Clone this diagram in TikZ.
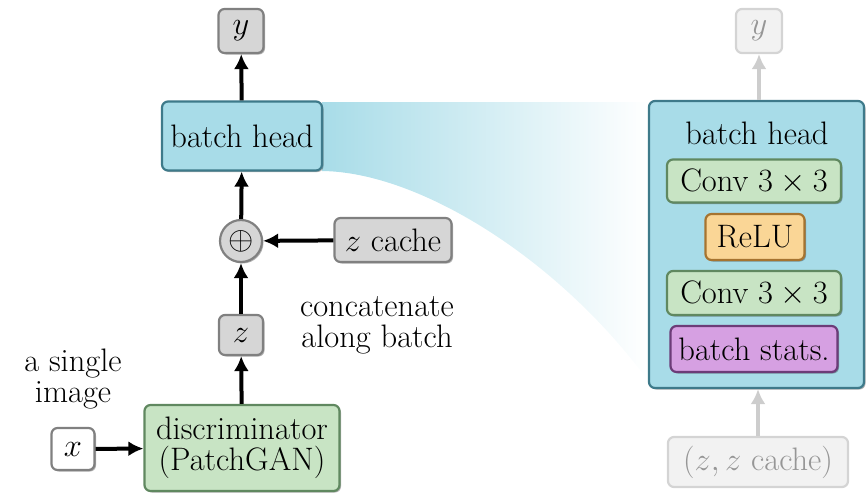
\RequirePackage{fix-cm}
\documentclass[tikz,border=0pt]{standalone}
\usetikzlibrary{arrows.meta,shadows}

\definecolor{boxgray}{RGB}{214,214,214}
\definecolor{linegray}{RGB}{128,128,128}
\definecolor{bhfill}{RGB}{168,220,232}
\definecolor{bhline}{RGB}{62,122,138}
\definecolor{gfill}{RGB}{200,228,196}
\definecolor{gline}{RGB}{96,136,96}
\definecolor{ofill}{RGB}{250,214,150}
\definecolor{oline}{RGB}{166,116,48}
\definecolor{pfill}{RGB}{214,160,226}
\definecolor{pline}{RGB}{108,60,120}
\definecolor{fadefill}{RGB}{242,242,242}
\definecolor{fadeline}{RGB}{212,212,212}
\definecolor{fadetext}{RGB}{150,150,150}
\definecolor{fadearrow}{RGB}{205,205,205}

\tikzset{
  blk/.style={rounded corners=6pt, line width=2.2pt, inner sep=0pt, align=center,
    drop shadow={shadow xshift=1.5pt, shadow yshift=-1.5pt, opacity=0.3, fill=black}},
  graybox/.style={blk, fill=boxgray, draw=linegray},
  bluebox/.style={blk, fill=bhfill, draw=bhline},
  greenbox/.style={blk, fill=gfill, draw=gline},
  orangebox/.style={blk, fill=ofill, draw=oline},
  purplebox/.style={blk, fill=pfill, draw=pline},
  fadebox/.style={rounded corners=6pt, line width=2.2pt, inner sep=0pt, align=center,
    fill=fadefill, draw=fadeline, text=fadetext},
  arr/.style={line width=4pt, -{Latex[length=15pt,width=15pt]}},
  fadearr/.style={arr, draw=fadearrow, color=fadearrow},
  lbl/.style={align=center, inner sep=0pt}
}

\begin{document}
\begin{tikzpicture}[x=1pt, y=-1pt, font=\fontsize{32.5}{36}\selectfont]
\path[use as bounding box] (0,0) rectangle (866,493);

% zoom wedge linking the small batch head to its expanded view
\shade[left color=bhfill, middle color=bhfill!70, right color=white]
  (322,102) -- (649,102) -- (649,382)
  .. controls (560,260) and (420,172) .. (322,171) -- cycle;

% left column
\node[graybox, minimum width=45pt, minimum height=44pt] (y) at (241,31) {$y$};
\node[bluebox, minimum width=160pt, minimum height=69pt] (bh) at (242,136) {batch head};
\node[circle, line width=2.2pt, fill=boxgray, draw=linegray, inner sep=0pt,
      minimum size=42pt, drop shadow={shadow xshift=1.5pt, shadow yshift=-1.5pt, opacity=0.3, fill=black}]
      (cat) at (241,241) {$\oplus$};
\node[graybox, minimum width=117pt, minimum height=44pt] (zc) at (393,240) {$z$ cache};
\node[graybox, minimum width=44pt, minimum height=40pt] (z) at (241,335) {$z$};
\node[greenbox, minimum width=195pt, minimum height=86pt] (disc) at (242,448)
  {discriminator\\[-5pt](PatchGAN)};
\node[fill=white, rounded corners=6pt, line width=2.2pt, draw=linegray, inner sep=0pt,
      minimum width=43pt, minimum height=42pt,
      drop shadow={shadow xshift=1.5pt, shadow yshift=-1.5pt, opacity=0.3, fill=black}]
      (x) at (73,449) {$x$};

\node[lbl] (single) at (73,379) {a single\\[-5pt]image};
\node[lbl] (concat) at (377,325) {concatenate\\[-5pt]along batch};

\draw[arr] (x) -- (disc);
\draw[arr] (disc) -- (z);
\draw[arr] (z) -- (cat);
\draw[arr] (zc) -- (cat);
\draw[arr] (cat) -- (bh);
\draw[arr] (bh) -- (y);

% expanded batch head
\node[fadebox, minimum width=46pt, minimum height=44pt] (yr) at (759,31) {$y$};
\node[bluebox, minimum width=215pt, minimum height=287pt] (big) at (756.5,244.5) {};
\node[lbl] (bhtitle) at (757,133) {batch head};
\node[greenbox, minimum width=174pt, minimum height=43pt] (conv1) at (754,181) {Conv $3\times 3$};
\node[orangebox, minimum width=99pt, minimum height=46pt] (relu) at (755,237) {ReLU};
\node[greenbox, minimum width=174pt, minimum height=44pt] (conv2) at (754,293) {Conv $3\times 3$};
\node[purplebox, minimum width=167pt, minimum height=46pt] (stats) at (754,349) {batch stats.};
\node[fadebox, minimum width=180pt, minimum height=50pt] (pair) at (758,462) {$(z, z$ cache$)$};

\draw[fadearr] (big.north -| yr) -- (yr);
\draw[fadearr] (pair) -- (big.south -| pair);
\end{tikzpicture}
\end{document}
